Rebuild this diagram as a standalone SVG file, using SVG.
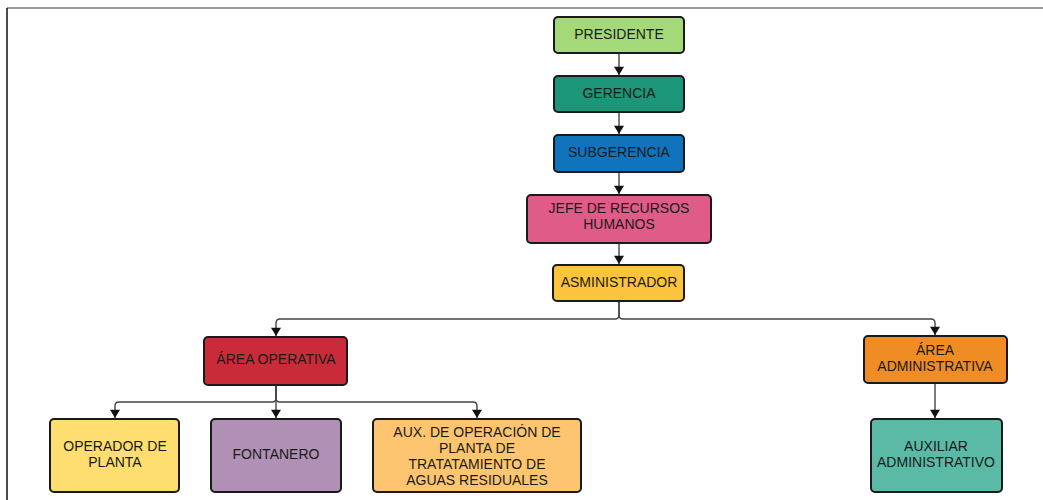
<svg xmlns="http://www.w3.org/2000/svg" width="1043" height="500" viewBox="0 0 1043 500">
<defs>
<style>
.n{stroke:#1a1a1a;stroke-width:2}
.t{font-family:"Liberation Sans",Arial,sans-serif;font-size:14px;fill:#1a1a1a;text-anchor:middle;dominant-baseline:central}
.c{fill:none;stroke:#444;stroke-width:1.4}
</style>
<marker id="ah" viewBox="0 0 10 12" refX="10" refY="6" markerWidth="10" markerHeight="10" markerUnits="userSpaceOnUse" orient="auto"><path d="M0,0 L10,6 L0,12 z" fill="#111"/></marker>
</defs>
<rect width="1043" height="500" fill="#fff"/>
<line x1="7" y1="8" x2="1043" y2="8" stroke="#777" stroke-width="1.5"/>
<line x1="7" y1="8" x2="7" y2="500" stroke="#111" stroke-width="1.5"/>
<g id="connectors">
<path class="c" d="M619,53 V75" marker-end="url(#ah)"/>
<path class="c" d="M619,112 V134" marker-end="url(#ah)"/>
<path class="c" d="M619,172 V194" marker-end="url(#ah)"/>
<path class="c" d="M619,243 V264" marker-end="url(#ah)"/>
<path class="c" d="M619,301 V315 Q619,319 615,319 H280 Q276,319 276,323 V336" marker-end="url(#ah)"/>
<path class="c" d="M619,301 V315 Q619,319 623,319 H931 Q935,319 935,323 V335" marker-end="url(#ah)"/>
<path class="c" d="M276,385 V398 Q276,402 272,402 H119 Q115,402 115,406 V418" marker-end="url(#ah)"/>
<path class="c" d="M276,385 V418" marker-end="url(#ah)"/>
<path class="c" d="M276,385 V398 Q276,402 280,402 H473 Q477,402 477,406 V418" marker-end="url(#ah)"/>
<path class="c" d="M935,383 V418" marker-end="url(#ah)"/>
</g>
<g id="presidente"><rect class="n" x="554" y="17" width="130" height="36" rx="4" fill="#a3d978"/><text class="t" x="619" y="34">PRESIDENTE</text></g>
<g id="gerencia"><rect class="n" x="554" y="76" width="130" height="36" rx="4" fill="#1b9679"/><text class="t" x="619" y="93">GERENCIA</text></g>
<g id="subgerencia"><rect class="n" x="554" y="135" width="130" height="37" rx="4" fill="#0f74bc"/><text class="t" x="619" y="152">SUBGERENCIA</text></g>
<g id="jefe"><rect class="n" x="527" y="195" width="184" height="48" rx="4" fill="#e05c88"/><text class="t" x="619" y="208">JEFE DE RECURSOS</text><text class="t" x="619" y="224">HUMANOS</text></g>
<g id="asministrador"><rect class="n" x="553" y="265" width="131" height="36" rx="4" fill="#fcc43d"/><text class="t" x="619" y="282">ASMINISTRADOR</text></g>
<g id="area-operativa"><rect class="n" x="204" y="337" width="143" height="48" rx="4" fill="#c92b39"/><text class="t" x="276" y="359">ÁREA OPERATIVA</text></g>
<g id="area-administrativa"><rect class="n" x="864" y="336" width="143" height="47" rx="4" fill="#ef8c23"/><text class="t" x="935" y="350">ÁREA</text><text class="t" x="935" y="366">ADMINISTRATIVA</text></g>
<g id="operador"><rect class="n" x="50" y="419" width="129" height="73" rx="4" fill="#fede70"/><text class="t" x="115" y="446">OPERADOR DE</text><text class="t" x="115" y="462">PLANTA</text></g>
<g id="fontanero"><rect class="n" x="211" y="419" width="130" height="73" rx="4" fill="#b090b5"/><text class="t" x="276" y="454">FONTANERO</text></g>
<g id="aux-operacion"><rect class="n" x="373" y="419" width="208" height="73" rx="4" fill="#fec571"/><text class="t" x="477" y="432">AUX. DE OPERACIÓN DE</text><text class="t" x="477" y="448">PLANTA DE</text><text class="t" x="477" y="464">TRATATAMIENTO DE</text><text class="t" x="477" y="480">AGUAS RESIDUALES</text></g>
<g id="auxiliar-administrativo"><rect class="n" x="871" y="419" width="131" height="73" rx="4" fill="#5bbaa6"/><text class="t" x="936" y="446">AUXILIAR</text><text class="t" x="936" y="462">ADMINISTRATIVO</text></g>
</svg>
